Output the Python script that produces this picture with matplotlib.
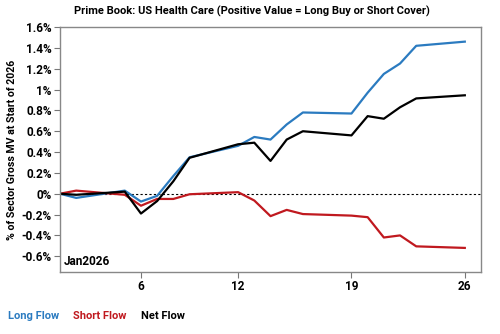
import matplotlib
matplotlib.use("Agg")
import matplotlib.pyplot as plt
from matplotlib.ticker import FuncFormatter

plt.rcParams['font.family'] = ['Roboto', 'DejaVu Sans']
plt.rcParams['font.weight'] = 'bold'

# day of January 2026
days = [1, 2, 5, 6, 7, 8, 9, 12, 13, 14, 15, 16, 19, 20, 21, 22, 23, 26]
long_flow = [0, -0.04, 0.03, -0.075, -0.02, 0.17, 0.35, 0.46, 0.545, 0.52, 0.665,
             0.78, 0.77, 0.97, 1.15, 1.25, 1.42, 1.46]
short_flow = [0, 0.03, -0.01, -0.115, -0.05, -0.05, -0.005, 0.015, -0.065, -0.215,
              -0.155, -0.195, -0.21, -0.225, -0.42, -0.40, -0.505, -0.52]
net_flow = [0, -0.01, 0.02, -0.19, -0.07, 0.12, 0.345, 0.475, 0.49, 0.315, 0.52,
            0.6, 0.56, 0.745, 0.72, 0.83, 0.915, 0.945]

xticks = [6, 12, 19, 26]
yticks = [-0.6, -0.4, -0.2, 0, 0.2, 0.4, 0.6, 0.8, 1.0, 1.2, 1.4, 1.6]

blue = '#2b7bc0'
red = '#c0191f'

fig = plt.figure(figsize=(5, 3.34), dpi=100)
ax = fig.add_axes([0.12, 0.186, 0.842, 0.733])

ax.axhline(0, color='black', lw=0.8, ls=(0, (2, 2)))
ax.plot(days, long_flow, color=blue, lw=1.6)
ax.plot(days, short_flow, color=red, lw=1.6)
ax.plot(days, net_flow, color='black', lw=1.6)

ax.set_xlim(1, 27)
ax.set_ylim(-0.75, 1.6)
ax.set_xticks(xticks)
ax.set_yticks(yticks)
ax.yaxis.set_major_formatter(FuncFormatter(lambda v, p: f"{v:g}%"))
ax.tick_params(labelsize=8.5, colors='black', length=4, width=0.8, pad=2)
ax.tick_params(axis='both', color='#777777')
for s in ax.spines.values():
    s.set_color('#888888')
    s.set_linewidth(1.0)

ax.text(0.008, 0.015, 'Jan2026', transform=ax.transAxes, fontsize=8.5,
        fontweight='bold', ha='left', va='bottom')

ax.set_ylabel('% of Sector Gross MV at Start of 2026', fontsize=7.6, fontweight='bold',
              labelpad=3)
fig.text(0.504, 0.965, 'Prime Book: US Health Care (Positive Value = Long Buy or Short Cover)',
         ha='center', va='center', fontsize=8, fontweight='bold')

fig.text(0.016, 0.053, 'Long Flow', color=blue, fontsize=8, fontweight='bold', va='center')
fig.text(0.146, 0.053, 'Short Flow', color=red, fontsize=8, fontweight='bold', va='center')
fig.text(0.282, 0.053, 'Net Flow', color='black', fontsize=8, fontweight='bold', va='center')

fig.savefig('out.png', dpi=100)
